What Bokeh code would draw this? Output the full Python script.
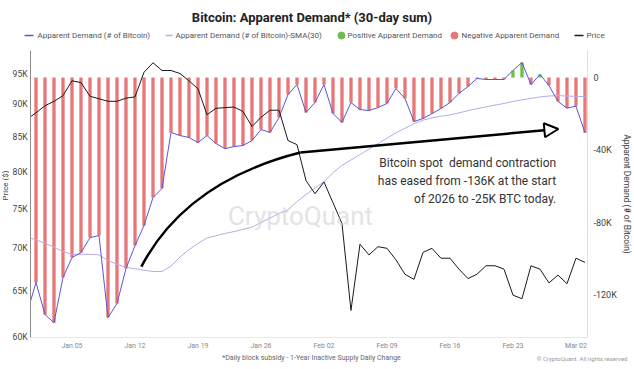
import math
import pandas as pd
from bokeh.plotting import figure
from bokeh.layouts import column, row
from bokeh.models import (Range1d, LinearAxis, LinearScale, FixedTicker, Label,
                          Arrow, NormalHead, ColumnDataSource, DatetimeTickFormatter,
                          CustomJSTickFormatter)
from bokeh.core.properties import value
from bokeh.embed import file_html
from bokeh.resources import INLINE

# ---------------- data ----------------
dates = pd.date_range("2025-12-31", "2026-03-03", freq="D")

demand = [-130000, -113000, -130800, -135200, -110300, -99300, -96600, -88300, -87200, -132400,
          -124700, -105400, -92700, -81700, -66200, -61200, -30300, -32000, -33100, -35900,
          -32000, -36400, -39200, -38100, -37500, -34800, -28700, -30300, -22100, -9400,
          -3900, -19300, -13800, -3900, -19900, -24800, -13800, -17700, -18200, -16600,
          -14300, -6100, -11600, -24300, -22600, -19900, -17100, -13800, -8800, -5000,
          -500, -1100, -1100, -1100, 3900, 8300, -3900, 1700, -4400, -13200,
          -16900, -15800, -30500]

demand_sma30 = [-88000, -89500, -91500, -93500, -96000, -97500, -97500, -97500, -97800, -101000,
                -103000, -104700, -105500, -106300, -107000, -107000, -104000, -99000, -95000, -91500,
                -88500, -87300, -86000, -85000, -83800, -82500, -80000, -77500, -75000, -73000,
                -68500, -64500, -61000, -57500, -52500, -48500, -45500, -42500, -39500, -36500,
                -33500, -30500, -28000, -25500, -23500, -22300, -21300, -20600, -19500, -18300,
                -17200, -16200, -15200, -14300, -13200, -12300, -11500, -10700, -10200, -10000,
                -10200, -10400, -10500]

price = [87700, 88700, 89800, 90500, 91400, 93800, 93500, 91300, 90900, 90500,
         90500, 91000, 91200, 95200, 96800, 95500, 95500, 95000, 93800, 92500,
         88400, 89400, 89500, 89600, 88900, 86600, 88000, 89100, 89100, 84500,
         83900, 78800, 77000, 78600, 75800, 73100, 62800, 70500, 69200, 70200,
         70000, 68600, 66900, 66300, 69500, 70000, 68800, 68800, 67500, 66400,
         66900, 67900, 67900, 67500, 64500, 64100, 67900, 67500, 65900, 66800,
         65800, 68800, 68300]

price_ticks = [60000, 65000, 70000, 75000, 80000, 85000, 90000, 95000]
demand_ticks = [0, -40000, -80000, -120000]
x_tick_dates = ["2026-01-05", "2026-01-12", "2026-01-19", "2026-01-26", "2026-02-02",
                "2026-02-09", "2026-02-16", "2026-02-23", "2026-03-02"]

legend_labels = ["Apparent Demand (# of Bitcoin)", "Apparent Demand (# of Bitcoin)-SMA(30)",
                 "Positive Apparent Demand", "Negative Apparent Demand", "Price"]
title_text = "Bitcoin: Apparent Demand* (30-day sum)"
footnote_text = "*Daily block subsidy - 1-Year Inactive Supply Daily Change"
copyright_text = "\u00a9 CryptoQuant. All rights reserved"
left_title = "Price ($)"
right_title = "Apparent Demand (# of Bitcoin)"

# annotation anchors (date, apparent demand)
curve_start = ("2026-01-12 17:00", -104300)
curve_ctrl = ("2026-01-17 16:00", -57400)
curve_end = ("2026-01-30 09:00", -41400)
arrow_tip = ("2026-02-28 01:00", -28400)
note_lines = ["Bitcoin spot\u00a0 demand contraction",
              "has eased from -136K at the start",
              "of 2026 to -25K BTC today."]
note_x = "2026-02-27 19:00"
note_y = [-47400, -57300, -67200]

# ---------------- helpers ----------------
def ms(s):
    return pd.Timestamp(s).value / 1e6

DAY = 86400000.0
x0 = ms("2026-01-01") - 0.61 * DAY
x1 = ms("2026-01-01") + 61.28 * DAY

FONT = "Roboto"
RED = "#E8777A"
GREEN = "#6DBE4B"
BLUE = "#5858D6"
SMA_C = "#B3ACEE"
BLACK = "#1a1a1a"


def blank(w, h):
    f = figure(width=w, height=h, x_range=Range1d(0, w), y_range=Range1d(h, 0),
               x_axis_location=None, y_axis_location=None, min_border=0,
               output_backend="svg", toolbar_location=None)
    f.frame_align = False
    f.grid.visible = False
    f.outline_line_color = None
    return f


# ---------------- header strip: title + legend (pixel coordinates) ----------------
top = blank(634, 50)
top.add_layout(Label(x=311.5, y=17, text=title_text, text_align="center",
                     text_baseline="middle", text_font=FONT, text_font_size="13px",
                     text_font_style="bold", text_color="#222222"))
LEG_Y = 35
top.segment(x0=[24, 165, 574], x1=[33, 172, 583], y0=[LEG_Y] * 3, y1=[LEG_Y] * 3,
            line_color=[BLUE, SMA_C, BLACK], line_width=1.5)
top.scatter(x=[341, 454], y=[LEG_Y] * 2, marker="circle", size=7, color=[GREEN, RED])
top.text(x=[37, 175, 347, 461, 586], y=[LEG_Y] * 5, text=legend_labels,
         text_font=value(FONT), text_font_size="8px", text_baseline="middle",
         text_color="#555555")

# ---------------- left strip: price axis title ----------------
side = blank(9, 302)
side.add_layout(Label(x=5, y=135, text=left_title, angle=math.pi / 2, text_align="center",
                      text_baseline="middle", text_font=FONT, text_font_size="8px",
                      text_color="#444444"))

# ---------------- main chart ----------------
fig = figure(frame_width=557, frame_height=287, x_axis_type="datetime", y_axis_type="log",
             x_range=Range1d(x0, x1), y_range=Range1d(59900, 98900),
             output_backend="svg", toolbar_location=None,
             min_border_left=21, min_border_right=47, min_border_top=0, min_border_bottom=15)
fig.frame_align = False
fig.extra_y_ranges = {"right": Range1d(-143400, 14900)}
fig.extra_y_scales = {"right": LinearScale()}
fig.outline_line_color = None
fig.xgrid.grid_line_color = None
fig.ygrid.grid_line_color = None

src = ColumnDataSource(dict(
    date=list(dates), demand=demand, sma=demand_sma30, price=price,
    color=[GREEN if v > 0 else RED for v in demand]))

fig.vbar(x="date", top=0, bottom="demand", width=0.37 * DAY, fill_color="color",
         line_color=None, source=src, y_range_name="right")
fig.line("date", "sma", source=src, y_range_name="right", color=SMA_C, line_width=1)
fig.line("date", "demand", source=src, y_range_name="right", color=BLUE, line_width=1)
fig.line("date", "price", source=src, color=BLACK, line_width=1)


def style_axis(ax, size, color, standoff):
    ax.major_tick_line_color = None
    ax.minor_tick_line_color = None
    ax.major_tick_out = 0
    ax.minor_tick_out = 0
    ax.major_tick_in = 0
    ax.minor_tick_in = 0
    ax.major_label_standoff = standoff
    ax.major_label_text_font = FONT
    ax.major_label_text_font_size = size
    ax.major_label_text_color = color
    ax.axis_label_text_font = FONT
    ax.axis_label_text_font_style = "normal"
    ax.axis_label_text_color = "#444444"


xa = fig.xaxis[0]
xa.ticker = FixedTicker(ticks=[ms(d) for d in x_tick_dates])
xa.formatter = DatetimeTickFormatter(days="%b %d", months="%b %d", years="%b %d")
xa.axis_line_color = "#e8e8e8"
style_axis(xa, "7px", "#888888", 4)

ya = fig.yaxis[0]
ya.ticker = FixedTicker(ticks=price_ticks)
ya.formatter = CustomJSTickFormatter(code="return (tick/1000).toFixed(0) + 'K';")
ya.axis_line_color = "#8a8a8a"
style_axis(ya, "8.5px", "#444444", 3)

ra = LinearAxis(y_range_name="right")
ra.ticker = FixedTicker(ticks=demand_ticks)
ra.formatter = CustomJSTickFormatter(code="return tick == 0 ? '0' : (tick/1000).toFixed(0) + 'K';")
ra.axis_line_color = "#dddddd"
style_axis(ra, "9px", "#444444", 6)
ra.axis_label = right_title
ra.axis_label_standoff = 2
ra.axis_label_text_font_size = "8.5px"
fig.add_layout(ra, "right")

# watermark
fig.add_layout(Label(x=270, y=122, x_units="screen", y_units="screen", text="CryptoQuant",
                     text_align="center", text_baseline="middle", text_font=FONT,
                     text_font_size="26px", text_color="#cccccc", text_alpha=0.55))

# arrow annotation
fig.quadratic(x0=[ms(curve_start[0])], y0=[curve_start[1]],
              x1=[ms(curve_end[0])], y1=[curve_end[1]],
              cx=[ms(curve_ctrl[0])], cy=[curve_ctrl[1]],
              line_color="black", line_width=2.5, y_range_name="right")
fig.add_layout(Arrow(x_start=ms(curve_end[0]), y_start=curve_end[1],
                     x_end=ms(arrow_tip[0]), y_end=arrow_tip[1],
                     line_color="black", line_width=2.5, y_range_name="right",
                     end=NormalHead(size=14, fill_color="white", line_color="black", line_width=2)))
for txt, yy in zip(note_lines, note_y):
    fig.add_layout(Label(x=ms(note_x), y=yy, y_range_name="right", text=txt,
                         text_align="right", text_baseline="middle", text_font=FONT,
                         text_font_size="12px", text_color="#333333"))

# ---------------- footer strip ----------------
bot = blank(634, 17)
bot.add_layout(Label(x=311, y=5, text=footnote_text, text_align="center",
                     text_baseline="middle", text_font=FONT, text_font_size="7px",
                     text_color="#666666"))
bot.add_layout(Label(x=627, y=6, text=copyright_text, text_align="right",
                     text_baseline="middle", text_font=FONT, text_font_size="6px",
                     text_color="#999999"))

p = column(top, row(side, fig, spacing=0), bot, spacing=0)
open("out.html", "w").write(file_html(p, INLINE))
